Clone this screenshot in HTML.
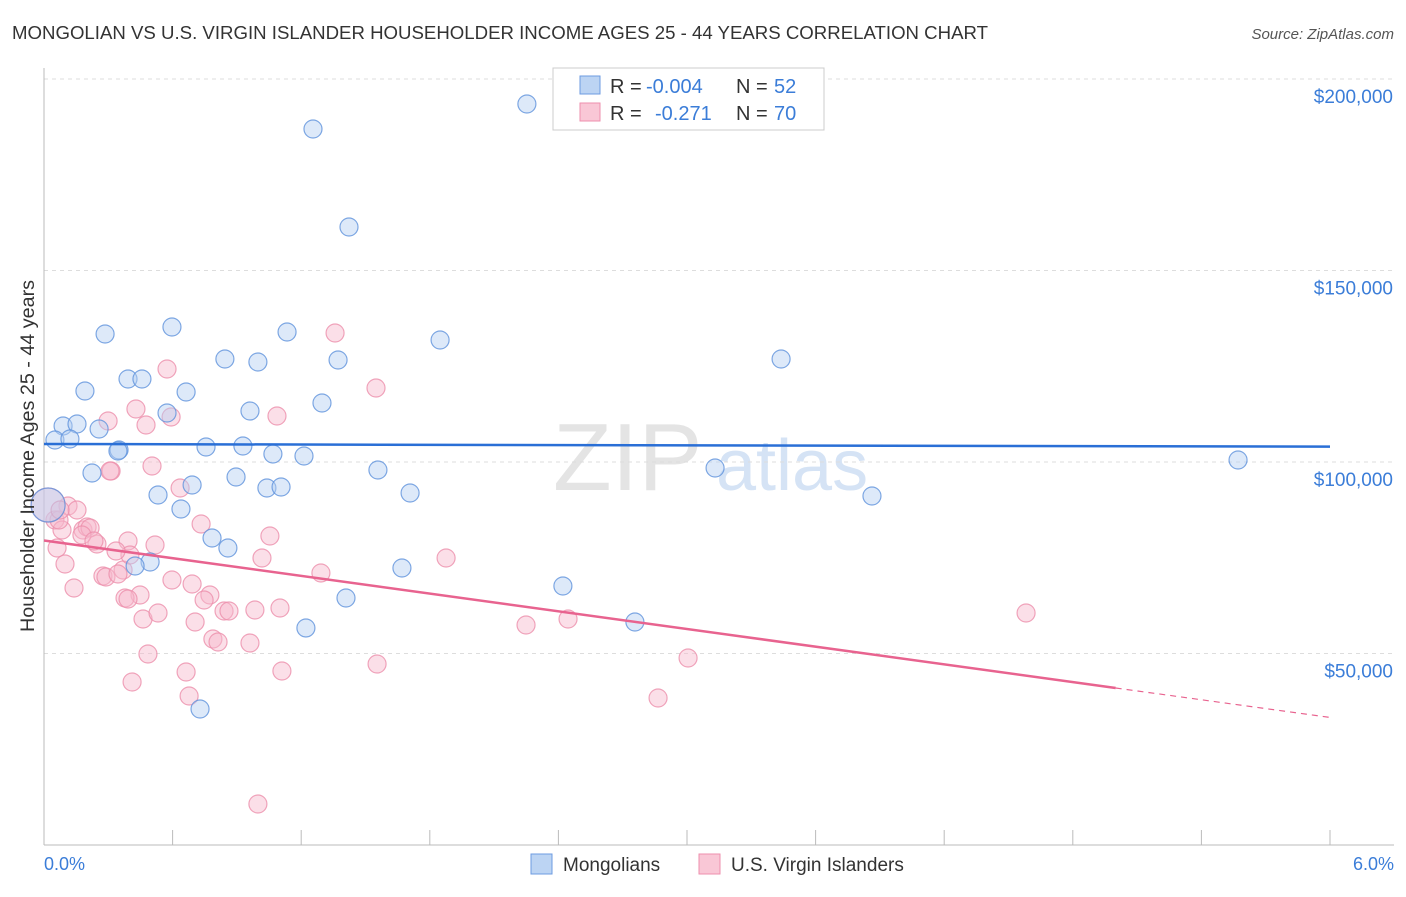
<!DOCTYPE html>
<html><head><meta charset="utf-8"><style>
body{margin:0;background:#fff;font-family:"Liberation Sans",sans-serif;}
svg text{font-family:"Liberation Sans",sans-serif;}
</style></head><body>
<svg id="chart" width="1406" height="892" xmlns="http://www.w3.org/2000/svg">
<text x="12" y="39" font-size="18" fill="#333" textLength="976" lengthAdjust="spacingAndGlyphs">MONGOLIAN VS U.S. VIRGIN ISLANDER HOUSEHOLDER INCOME AGES 25 - 44 YEARS CORRELATION CHART</text>
<text x="1394" y="39" font-size="15" fill="#555" font-style="italic" text-anchor="end">Source: ZipAtlas.com</text>
<text x="553" y="490" font-size="96" fill="#e4e4e4" font-family="Liberation Serif">ZIP</text>
<text x="716" y="490" font-size="72" fill="#d5e3f5">atlas</text>
<g id="grid"></g><g id="axes"></g><g id="pts"></g><g id="lines"></g>
<text transform="translate(34,456) rotate(-90)" font-size="19" fill="#333" text-anchor="middle" textLength="352" lengthAdjust="spacingAndGlyphs">Householder Income Ages 25 - 44 years</text>
<text x="44" y="870" font-size="18" fill="#3b7dd8">0.0%</text>
<text x="1394" y="870" font-size="18" fill="#3b7dd8" text-anchor="end">6.0%</text>
<g>
<rect x="553" y="68" width="271" height="62" fill="#fff" stroke="#ccc"/>
<rect x="580" y="76" width="20" height="18" fill="#bcd4f3" stroke="#6d9be0"/>
<rect x="580" y="103" width="20" height="18" fill="#f9c7d6" stroke="#ee8fae"/>
<text x="610" y="93" font-size="20" fill="#333">R =</text>
<text x="646" y="93" font-size="20" fill="#3b7dd8">-0.004</text>
<text x="736" y="93" font-size="20" fill="#333">N =</text>
<text x="774" y="93" font-size="20" fill="#3b7dd8">52</text>
<text x="610" y="120" font-size="20" fill="#333">R =</text>
<text x="655" y="120" font-size="20" fill="#3b7dd8">-0.271</text>
<text x="736" y="120" font-size="20" fill="#333">N =</text>
<text x="774" y="120" font-size="20" fill="#3b7dd8">70</text>
</g>
<g>
<rect x="531" y="854" width="21" height="20" fill="#bcd4f3" stroke="#6d9be0"/>
<text x="563" y="871" font-size="19" fill="#333">Mongolians</text>
<rect x="699" y="854" width="21" height="20" fill="#f9c7d6" stroke="#ee8fae"/>
<text x="731" y="871" font-size="19" fill="#333">U.S. Virgin Islanders</text>
</g>
</svg>
<script>
const yTicks=[50000,100000,150000,200000];
const yTickLabels=["$50,000","$100,000","$150,000","$200,000"];
const bluePx=[[527,104],[313,129],[349,227],[105,334],[172,327],[287,332],[440,340],[225,359],[258,362],[338,360],[781,359],[85,391],[128,379],[142,379],[186,392],[167,413],[250,411],[322,403],[63,426],[77,424],[99,429],[55,440],[70,439],[119,450],[206,447],[243,446],[273,454],[304,456],[378,470],[715,468],[1238,460],[92,473],[236,477],[158,495],[192,485],[267,488],[281,487],[410,493],[872,496],[181,509],[212,538],[228,548],[150,562],[135,566],[402,568],[563,586],[346,598],[306,628],[635,622],[200,709],[118,451],[48,505]];
const pinkPx=[[68,506],[55,520],[62,530],[57,548],[65,564],[74,588],[83,530],[87,527],[90,528],[97,544],[82,535],[108,421],[111,471],[136,409],[146,425],[167,369],[171,417],[152,466],[180,488],[201,524],[128,541],[155,545],[123,570],[103,576],[106,577],[118,574],[130,555],[140,595],[125,598],[128,599],[143,619],[158,613],[172,580],[192,584],[210,595],[224,611],[229,611],[195,622],[204,600],[148,654],[132,682],[186,672],[189,696],[213,639],[218,642],[250,643],[255,610],[262,558],[270,536],[277,416],[280,608],[282,671],[321,573],[335,333],[376,388],[377,664],[446,558],[526,625],[568,619],[658,698],[688,658],[1026,613],[258,804],[94,541],[116,551],[59,520],[77,510],[110,471],[48,505],[60,510]];
const blueX=bluePx.map(p=>+((p[0]-44)/1286*6).toFixed(3));
const blueY=bluePx.map(p=>Math.round(100000+(462-p[1])*50000/191.5));
const pinkX=pinkPx.map(p=>+((p[0]-44)/1286*6).toFixed(3));
const pinkY=pinkPx.map(p=>Math.round(100000+(462-p[1])*50000/191.5));
const blueTrend=[104700,104000];
const pinkTrend=[79500,41000,33300];
const pinkTrendX=[0,5,6];
const X=v=>44+v/6*1286, Y=v=>462-(v-100000)*191.5/50000;
const NS="http://www.w3.org/2000/svg";
function mk(t,a,p){const e=document.createElementNS(NS,t);for(const k in a)e.setAttribute(k,a[k]);p.appendChild(e);return e;}
const grid=document.getElementById('grid'),axes=document.getElementById('axes');
yTicks.forEach((v,i)=>{
 const l=mk('line',{x1:44,x2:1394,y1:Y(v),y2:Y(v),stroke:'#ddd','stroke-dasharray':'4,4'},grid);
 
 
 const t=mk('text',{x:1393,y:Y(v)+24,'font-size':19,fill:'#3b7dd8','text-anchor':'end'},grid);t.textContent=yTickLabels[i];
 
 
});
const ya=mk('line',{x1:44,x2:44,y1:68,y2:845,stroke:'#bbb'},axes);


const xa=mk('line',{x1:44,x2:1394,y1:845,y2:845,stroke:'#bbb'},axes);


for(let i=0;i<=10;i++){const tk=mk('line',{x1:X(i*0.6),x2:X(i*0.6),y1:830,y2:845,stroke:'#bbb'},axes);
 
 }
const pts=document.getElementById('pts');
function dots(xs,ys,fill,stroke,name){xs.forEach((x,i)=>{const big=(i===xs.length-1&&name==='mongolian-point')||(name==='virgin-islander-point'&&i===xs.length-2);
 const c=mk('circle',{cx:X(x),cy:Y(ys[i]),r:big?17:9,fill:fill,'fill-opacity':0.45,stroke:stroke,'stroke-opacity':0.8,'stroke-width':1.2},pts);
 
 });}
dots(pinkX,pinkY,'#f7b8cb','#ec8fab','virgin-islander-point');
dots(blueX,blueY,'#b3cff2','#5f92dc','mongolian-point');
const lines=document.getElementById('lines');
const bl=mk('line',{x1:X(0),x2:X(6),y1:Y(blueTrend[0]),y2:Y(blueTrend[1]),stroke:'#2a6fd6','stroke-width':2.5},lines);


const pl=mk('line',{x1:X(pinkTrendX[0]),x2:X(pinkTrendX[1]),y1:Y(pinkTrend[0]),y2:Y(pinkTrend[1]),stroke:'#e8638f','stroke-width':2.5},lines);


const pd=mk('line',{x1:X(pinkTrendX[1]),x2:X(pinkTrendX[2]),y1:Y(pinkTrend[1]),y2:Y(pinkTrend[2]),stroke:'#e8638f','stroke-width':1.2,'stroke-dasharray':'6,5'},lines);


</script>
</body></html>
